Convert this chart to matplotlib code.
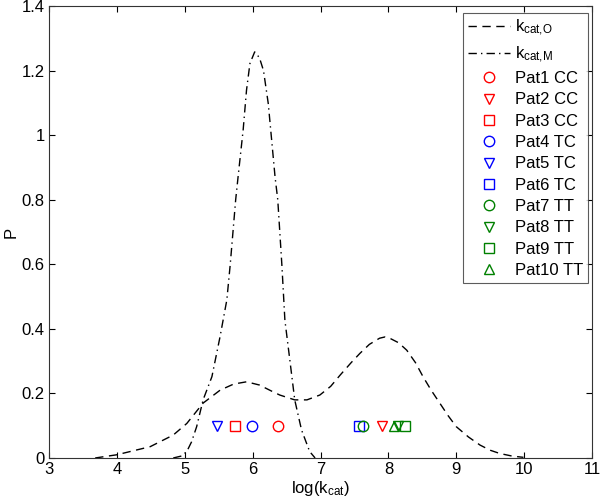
import matplotlib
matplotlib.use("Agg")
import matplotlib.pyplot as plt

plt.rcParams['font.family'] = ['Liberation Sans', 'DejaVu Sans']
plt.rcParams['mathtext.fontset'] = 'custom'
plt.rcParams['mathtext.rm'] = 'Liberation Sans'
plt.rcParams['mathtext.it'] = 'Liberation Sans'

# k_cat,O density (dashed)
x_o = [3.68, 4.0, 4.49, 4.83, 5.03, 5.27, 5.52, 5.72, 5.91, 6.10, 6.30, 6.40,
       6.62, 6.80, 6.99, 7.15, 7.29, 7.45, 7.58, 7.72, 7.87, 7.95, 8.02, 8.15,
       8.27, 8.40, 8.51, 8.63, 8.76, 8.88, 9.0, 9.18, 9.35, 9.50, 9.64, 9.82, 9.99]
p_o = [0.0, 0.01, 0.035, 0.071, 0.107, 0.17, 0.21, 0.229, 0.236, 0.226, 0.205, 0.195,
       0.18, 0.18, 0.195, 0.222, 0.257, 0.295, 0.324, 0.352, 0.371, 0.375, 0.371, 0.357,
       0.334, 0.295, 0.252, 0.21, 0.169, 0.131, 0.097, 0.065, 0.04, 0.024, 0.014, 0.006, 0.002]

# k_cat,M density (dash-dot)
x_m = [4.83, 4.95, 5.03, 5.10, 5.175, 5.27, 5.40, 5.52, 5.62, 5.67, 5.75, 5.79,
       5.86, 5.91, 5.96, 6.03, 6.10, 6.16, 6.23, 6.28, 6.33, 6.37, 6.43, 6.475,
       6.55, 6.62, 6.72, 6.84, 6.92]
p_m = [0.0, 0.006, 0.02, 0.05, 0.097, 0.18, 0.252, 0.376, 0.49, 0.60, 0.80, 0.88,
       1.016, 1.14, 1.222, 1.258, 1.24, 1.20, 1.098, 0.985, 0.871, 0.80, 0.60, 0.427,
       0.30, 0.18, 0.087, 0.02, 0.0]

# patients
pat_labels = ['Pat1 CC', 'Pat2 CC', 'Pat3 CC', 'Pat4 TC', 'Pat5 TC', 'Pat6 TC',
              'Pat7 TT', 'Pat8 TT', 'Pat9 TT', 'Pat10 TT']
pat_x = [6.38, 7.91, 5.74, 5.985, 5.47, 7.565, 7.63, 8.145, 8.25, 8.085]
pat_y = [0.1] * 10
pat_markers = ['o', 'v', 's', 'o', 'v', 's', 'o', 'v', 's', '^']
pat_colors = ['#ff0000'] * 3 + ['#0000ff'] * 3 + ['#008000'] * 4

fig = plt.figure(figsize=(6.0, 5.04), dpi=100)
ax = fig.add_axes([0.0817, 0.0913, 0.905, 0.8967])

ax.plot(x_o, p_o, color='black', lw=1.0, dashes=(6, 4), label=r'$\mathrm{k_{cat,\!O}}$')
ax.plot(x_m, p_m, color='black', lw=1.0, dashes=(6, 3, 1, 3), label=r'$\mathrm{k_{cat,\!M}}$')

for xv, yv, mk, c, lab in zip(pat_x, pat_y, pat_markers, pat_colors, pat_labels):
    ax.plot([xv], [yv], linestyle='none', marker=mk, markersize=7.5,
            markerfacecolor='none', markeredgecolor=c, markeredgewidth=1.0, label=lab)

ax.set_xlim(3, 11)
ax.set_ylim(0, 1.4)
ax.set_xticks(range(3, 12))
ax.set_yticks([0, 0.2, 0.4, 0.6, 0.8, 1.0, 1.2, 1.4])
ax.set_yticklabels(['0', '0.2', '0.4', '0.6', '0.8', '1', '1.2', '1.4'])
ax.tick_params(direction='in', top=True, right=True, labelsize=12, length=4, width=0.8, pad=3)
for s in ax.spines.values():
    s.set_linewidth(0.8)
    s.set_color('#333333')

ax.set_xlabel(r'log(k$_{\mathrm{cat}}$)', fontsize=12, labelpad=1)
ax.set_ylabel('P', fontsize=12, labelpad=2)

leg = ax.legend(loc='upper right', bbox_to_anchor=(0.993, 0.985), fontsize=12,
                handlelength=2.5, labelspacing=0.38, borderpad=0.3, fancybox=False,
                frameon=True, edgecolor='#333333', handletextpad=0.3, borderaxespad=0)
leg.get_frame().set_linewidth(0.8)

fig.savefig('out.png', dpi=100)
